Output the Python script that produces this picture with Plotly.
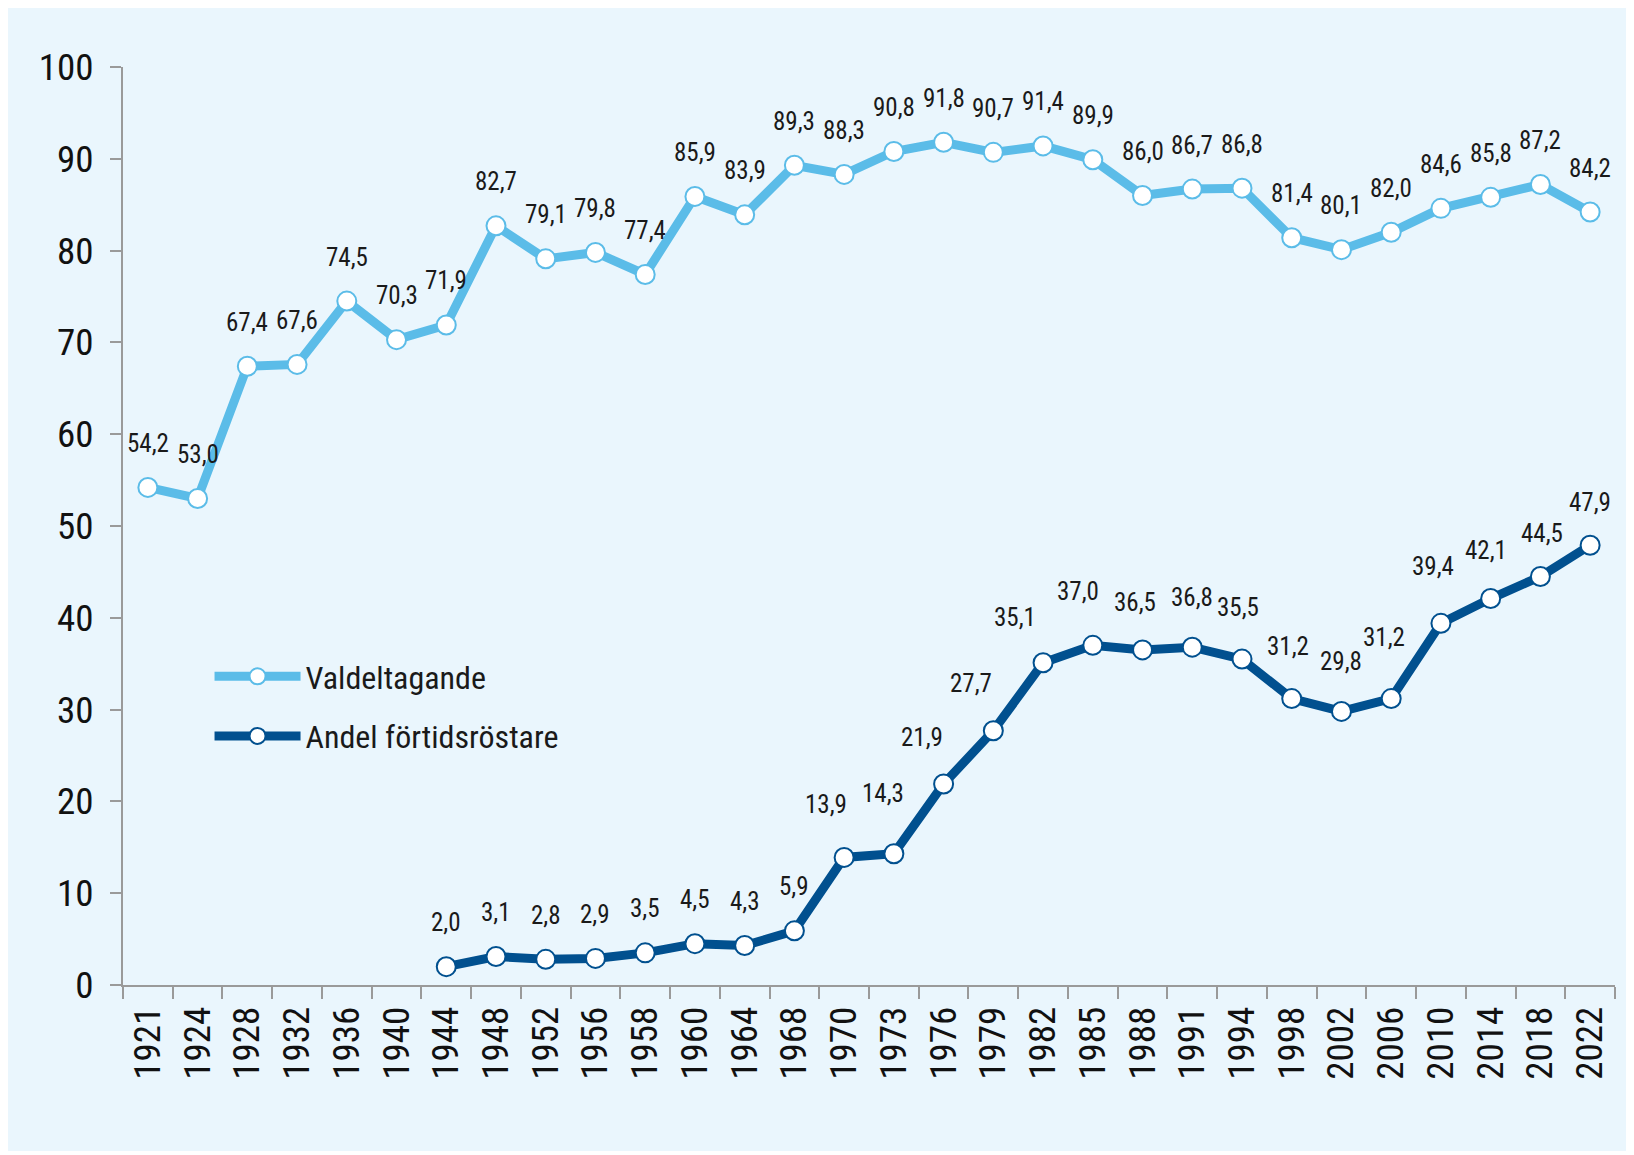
import plotly.graph_objects as go

years = ["1921", "1924", "1928", "1932", "1936", "1940", "1944", "1948", "1952", "1956",
         "1958", "1960", "1964", "1968", "1970", "1973", "1976", "1979", "1982", "1985",
         "1988", "1991", "1994", "1998", "2002", "2006", "2010", "2014", "2018", "2022"]

valdeltagande = [54.2, 53.0, 67.4, 67.6, 74.5, 70.3, 71.9, 82.7, 79.1, 79.8,
                 77.4, 85.9, 83.9, 89.3, 88.3, 90.8, 91.8, 90.7, 91.4, 89.9,
                 86.0, 86.7, 86.8, 81.4, 80.1, 82.0, 84.6, 85.8, 87.2, 84.2]

fortid_years = years[6:]
fortidsrostare = [2.0, 3.1, 2.8, 2.9, 3.5, 4.5, 4.3, 5.9, 13.9, 14.3,
                  21.9, 27.7, 35.1, 37.0, 36.5, 36.8, 35.5, 31.2, 29.8, 31.2,
                  39.4, 42.1, 44.5, 47.9]

# label nudges (px) for the dark series, same order as fortidsrostare
dark_dx = [0, 0, 0, 0, 0, 0, 0, 0, -18, -11, -22, -22, -28, -15, -8, 0, -4, -4, 0, -7, -8, -5, 2, 0]
dark_dy = [44, 44, 44, 44, 44, 44, 44, 44, 53, 60, 46, 47, 45, 54, 47, 50, 52, 52, 50, 61, 57, 48, 43, 43]

LIGHT = "#5bbce8"
DARK = "#01508f"
BG = "#eaf6fd"
FONT = "Roboto Condensed, DejaVu Sans Condensed, Roboto, sans-serif"


def fmt(v):
    return f"{v:.1f}".replace(".", ",")


fig = go.Figure()
fig.add_trace(go.Scatter(
    x=years, y=valdeltagande, name="Valdeltagande", mode="lines+markers",
    legendgroup="a",
    line=dict(color=LIGHT, width=9),
    marker=dict(size=19, color="white", line=dict(color=LIGHT, width=2)),
))
fig.add_trace(go.Scatter(
    x=fortid_years, y=fortidsrostare, name="Andel förtidsröstare", mode="lines+markers",
    legendgroup="b",
    line=dict(color=DARK, width=9),
    marker=dict(size=19, color="white", line=dict(color=DARK, width=2)),
))

for x, y in zip(years, valdeltagande):
    fig.add_annotation(x=years.index(x), y=y, text=fmt(y), showarrow=False, yshift=44,
                       font=dict(family=FONT, size=25, color="#1a1a1a"))
for x, y, dx, dy in zip(fortid_years, fortidsrostare, dark_dx, dark_dy):
    fig.add_annotation(x=years.index(x), y=y, text=fmt(y), showarrow=False,
                       xshift=dx, yshift=dy,
                       font=dict(family=FONT, size=25, color="#1a1a1a"))

fig.update_layout(
    width=1626, height=1143,
    margin=dict(l=115, r=19, t=59, b=166),
    paper_bgcolor=BG, plot_bgcolor=BG,
    showlegend=True,
    legend=dict(x=0.058, y=0.366, xanchor="left", yanchor="top",
                bgcolor="rgba(0,0,0,0)", itemwidth=86, tracegroupgap=15,
                traceorder="grouped",
                font=dict(family=FONT, size=32, color="#1a1a1a")),
    font=dict(family=FONT, color="#1a1a1a"),
)
fig.update_xaxes(
    type="category", range=[-0.5, len(years) - 0.5], tickson="boundaries",
    showline=True, linecolor="#9a9a9a", linewidth=2,
    ticks="outside", ticklen=12, tickcolor="#9a9a9a", tickwidth=2,
    tickangle=-90, tickfont=dict(family=FONT, size=37, color="#111"),
    ticklabelstandoff=5,
    showgrid=False, zeroline=False,
)
fig.update_yaxes(
    range=[0, 100], tickvals=list(range(0, 101, 10)),
    showline=True, linecolor="#9a9a9a", linewidth=2,
    ticks="outside", ticklen=11, tickcolor="#9a9a9a", tickwidth=2,
    tickfont=dict(family=FONT, size=37, color="#111"),
    ticklabelstandoff=9,
    showgrid=False, zeroline=False,
)

fig.write_html("out.html")
